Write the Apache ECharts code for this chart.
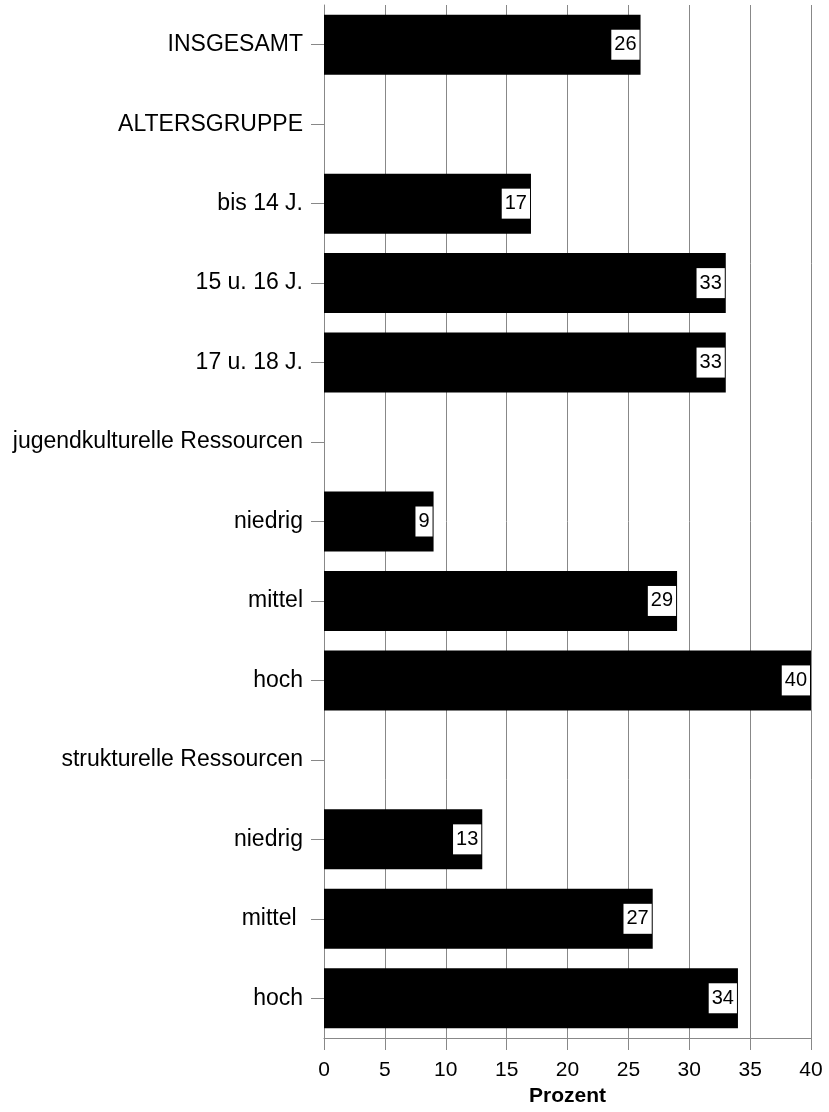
<!DOCTYPE html>
<html><head><meta charset="utf-8">
<script src="https://cdn.jsdelivr.net/npm/echarts@6/dist/echarts.min.js"></script>
<style>html,body{margin:0;padding:0;background:#fff}#c{width:829px;height:1112px}</style>
</head><body><div id="c"></div>
<script>
const categories = ["INSGESAMT","ALTERSGRUPPE","bis 14 J.","15 u. 16 J.","17 u. 18 J.","jugendkulturelle Ressourcen","niedrig","mittel","hoch","strukturelle Ressourcen","niedrig","mittel ","hoch"];
const values = [26, null, 17, 33, 33, null, 9, 29, 40, null, 13, 27, 34];
const xTicks = [0,5,10,15,20,25,30,35,40];
const axisName = "Prozent";

const chart = echarts.init(document.getElementById('c'), null, {renderer:'canvas'});
const font = 'Liberation Sans, Arial, sans-serif';
chart.setOption({
  animation:false,
  backgroundColor:'#fff',
  grid:{left:324,right:18,top:5,bottom:68},
  xAxis:{
    type:'value', min:0, max:40, interval:5,
    name:axisName, nameLocation:'middle', nameGap:48,
    nameTextStyle:{fontFamily:font,fontSize:21,fontWeight:'bold',color:'#000'},
    axisLine:{show:true,lineStyle:{color:'#888',width:1}},
    axisTick:{show:true,length:12,lineStyle:{color:'#888'}},
    axisLabel:{fontFamily:font,fontSize:21,color:'#000',margin:22,
      formatter:v=>xTicks.includes(v)?String(v):''},
    splitLine:{show:true,lineStyle:{color:'#888',width:1}}
  },
  yAxis:{
    type:'category', data:categories, inverse:true,
    axisLine:{show:true,lineStyle:{color:'#888',width:1}},
    axisTick:{show:true,alignWithLabel:true,length:13,lineStyle:{color:'#888'}},
    axisLabel:{fontFamily:font,fontSize:23,color:'#000',margin:21,interval:0},
    splitLine:{show:false}
  },
  series:[{
    type:'bar', data:values, barWidth:60,
    itemStyle:{color:'#000'},
    label:{show:true,position:'insideRight',distance:1,
      fontFamily:font,fontSize:20,color:'#000',
      backgroundColor:'#fff',padding:[6,3,4,3]}
  }]
});
</script></body></html>
